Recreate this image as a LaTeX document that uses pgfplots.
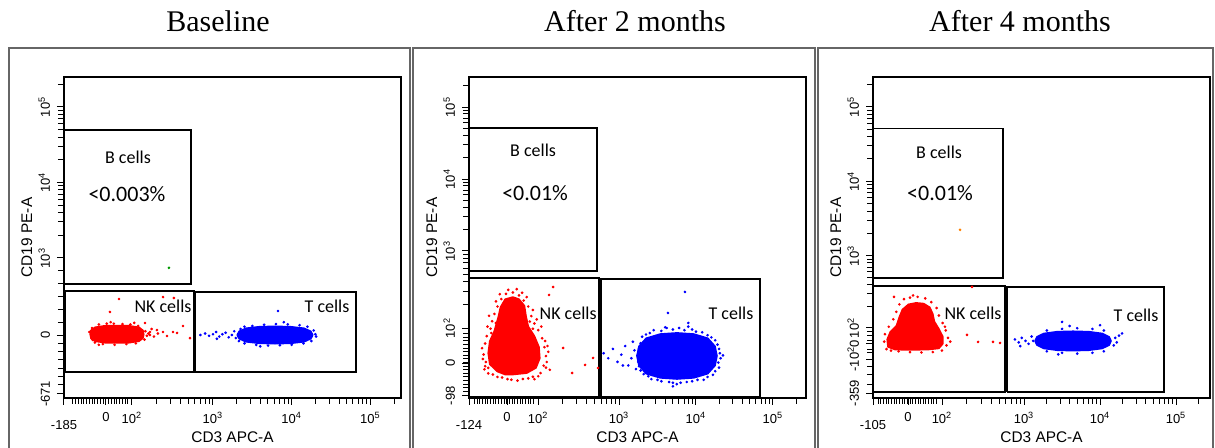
\documentclass[border=0pt]{standalone}
\usepackage{fontspec}
\setmainfont{Liberation Sans}
\newfontfamily\titlefont{Liberation Serif}
\newfontfamily\gatefont{Carlito}
\usepackage{pgfplots}
\pgfplotsset{compat=1.18}

% display scale: 10^n sits at n, low end is linear
\pgfplotsset{
  flow/.style={
    scale only axis, width=168.5pt, height=160.5pt, anchor=south west,
    axis line style={line width=0.7pt},
    tick align=outside, tick pos=left,
    major tick length=3.5pt, minor tick length=3pt,
    every tick/.style={black, line width=0.5pt},
    xlabel={CD3 APC-A}, ylabel={CD19 PE-A},
    label style={font=\fontsize{7.7}{8}\selectfont},
    xlabel style={at={(axis description cs:0.5,-0.1215)}, anchor=center},
    ylabel style={at={(axis description cs:-0.11,0.5)}, anchor=center},
    tick label style={font=\fontsize{6.5}{7}\selectfont},
    yticklabel style={rotate=90, anchor=south},
    extra x tick style={xticklabel style={yshift=-4pt}},
  },
  cloud/.style={line width=0.8pt, line join=round},
  dots/.style={only marks, mark=*, mark size=0.45pt},
  gate/.style={black, line width=0.7pt},
}
\tikzset{
  lbl/.style={font=\gatefont\fontsize{9}{9}\selectfont},
  pct/.style={font=\gatefont\fontsize{11}{11}\selectfont},
}

\begin{document}
\begin{tikzpicture}[x=0.5pt,y=0.5pt]
\useasboundingbox (0,0) rectangle (1215,448);

% panel frames
\draw[black!60, line width=1.1pt] (9,-5) -- (9,400) -- (410,400) -- (410,-5);
\draw[black!60, line width=1.1pt] (413,-5) -- (413,400) -- (815,400) -- (815,-5);
\draw[black!60, line width=1.1pt] (818,-5) -- (818,400) -- (1213,400) -- (1213,-5);

\node[font=\titlefont\fontsize{15}{15}\selectfont] at (218,427) {Baseline};
\node[font=\titlefont\fontsize{15}{15}\selectfont] at (635,427) {After 2 months};
\node[font=\titlefont\fontsize{15}{15}\selectfont] at (1020,427) {After 4 months};

% ---------------- Baseline ----------------
\begin{axis}[flow, at={(32pt,25pt)},
  xmin=1.107, xmax=5.389, ymin=1.146, ymax=5.397,
  xtick={1.64,1.97,3,4,5},
  xticklabels={0,10\textsuperscript{2},10\textsuperscript{3},10\textsuperscript{4},10\textsuperscript{5}},
  extra x ticks={1.107}, extra x tick labels={-185},
  minor xtick={1.22,1.255,...,1.955,2.28,2.461,2.59,2.69,2.771,2.84,2.90,2.953,
    3.301,3.477,3.602,3.699,3.778,3.845,3.903,3.954,
    4.301,4.477,4.602,4.699,4.778,4.845,4.903,4.954,5.301},
  ytick={1.98,3,4,5},
  yticklabels={0,10\textsuperscript{3},10\textsuperscript{4},10\textsuperscript{5}},
  extra y ticks={1.2}, extra y tick labels={-671},
  minor ytick={1.32,1.43,1.54,1.65,1.76,1.87,2.15,2.32,2.49,2.66,2.83,
    3.301,3.477,3.602,3.699,3.778,3.845,3.903,3.954,
    4.301,4.477,4.602,4.699,4.778,4.845,4.903,4.954,5.301},
]
\addplot[cloud, draw=red, fill=red] coordinates {
(2.12,1.99) (2.11,2.042) (2.059,2.082) (1.933,2.102) (1.78,2.105) (1.627,2.102)
(1.501,2.082) (1.45,2.042) (1.44,1.99) (1.45,1.938) (1.501,1.898) (1.627,1.878)
(1.78,1.875) (1.933,1.878) (2.059,1.898) (2.11,1.938) (2.12,1.99)};
\addplot[dots, red] coordinates {
(1.43,2.02) (1.46,1.93) (1.55,2.12) (1.65,2.13) (1.74,2.13) (1.85,2.125) (1.95,2.12)
(2.05,2.1) (2.14,2.03) (2.16,1.97) (2.13,1.92) (2.02,1.87) (1.9,1.86) (1.75,1.85)
(1.6,1.86) (1.5,1.88) (1.7,2.15) (2.0,2.14) (1.55,1.85) (2.18,2.0)
(1.806,2.457) (2.365,2.483) (2.504,2.470) (1.691,2.285) (2.136,2.139) (2.288,2.046)
(2.365,2.020) (2.492,2.020) (2.543,2.007) (2.619,2.099) (2.708,1.940) (2.416,1.967)
(2.199,1.980) (1.463,2.073) (1.475,1.914) (2.22,2.06) (2.25,1.96) (2.3,2.0) (2.2,2.02)};
\addplot[cloud, draw=blue, fill=blue] coordinates {
(4.268,1.98) (4.244,2.028) (4.158,2.069) (3.990,2.089) (3.788,2.095) (3.586,2.089)
(3.418,2.069) (3.332,2.028) (3.308,1.98) (3.332,1.932) (3.418,1.891) (3.586,1.871)
(3.788,1.865) (3.990,1.871) (4.158,1.891) (4.244,1.932) (4.268,1.98)};
\addplot[dots, blue] coordinates {
(2.84,1.98) (2.90,2.0) (2.95,1.97) (3.0,1.99) (3.04,2.02) (3.08,1.96) (3.12,1.99)
(3.16,2.01) (3.2,1.95) (3.24,1.98) (3.27,2.03) (3.29,1.94) (3.05,1.93)
(4.3,1.99) (4.31,1.96) (4.28,2.04) (4.2,2.09) (4.1,2.11) (3.95,2.12) (3.8,2.125)
(3.65,2.115) (3.5,2.1) (3.4,2.09) (3.35,2.06) (3.33,1.9) (3.4,1.87) (3.55,1.85)
(3.7,1.84) (3.85,1.845) (4.0,1.85) (4.15,1.87) (4.25,1.9) (3.9,2.15) (3.6,1.83)
(3.826,2.298)};
\addplot[dots, green!60!black] coordinates {(2.44,2.87)};
\addplot[gate] coordinates {(1.107,2.656) (2.72,2.656) (2.72,4.695) (1.107,4.695) (1.107,2.656)};
\addplot[gate] coordinates {(1.12,1.49) (2.76,1.49) (2.76,2.563) (1.12,2.563) (1.12,1.49)};
\addplot[gate] coordinates {(2.77,1.49) (4.817,1.49) (4.817,2.55) (2.77,2.55) (2.77,1.49)};
\node[lbl] at (axis cs:1.92,4.338) {B cells};
\node[pct] at (axis cs:1.907,3.848) {<0.003\%};
\node[lbl] at (axis cs:2.365,2.364) {NK cells};
\node[lbl] at (axis cs:4.449,2.364) {T cells};
\end{axis}

% ---------------- After 2 months ----------------
\begin{axis}[flow, at={(234.5pt,25pt)},
  xmin=1.05, xmax=5.43, ymin=0.958, ymax=5.417,
  xtick={1.545,1.948,3,4,5},
  xticklabels={0,10\textsuperscript{2},10\textsuperscript{3},10\textsuperscript{4},10\textsuperscript{5}},
  extra x ticks={1.05}, extra x tick labels={-124},
  minor xtick={1.12,1.155,...,1.925,2.265,2.450,2.581,2.683,2.767,2.837,2.898,2.952,
    3.301,3.477,3.602,3.699,3.778,3.845,3.903,3.954,
    4.301,4.477,4.602,4.699,4.778,4.845,4.903,4.954,5.301},
  ytick={1.444,1.93,3,4,5},
  yticklabels={0,10\textsuperscript{2},10\textsuperscript{3},10\textsuperscript{4},10\textsuperscript{5}},
  extra y ticks={0.99}, extra y tick labels={-98},
  minor ytick={1.05,1.1,...,1.9,2.252,2.440,2.574,2.678,2.762,2.834,2.896,2.951,
    3.301,3.477,3.602,3.699,3.778,3.845,3.903,3.954,
    4.301,4.477,4.602,4.699,4.778,4.845,4.903,4.954,5.301},
]
\addplot[cloud, draw=red, fill=red] coordinates {
(1.62,1.284) (1.80,1.304) (1.92,1.376) (1.97,1.510) (1.96,1.664) (1.90,1.818)
(1.82,1.952) (1.79,2.10) (1.77,2.24) (1.70,2.33) (1.62,2.36) (1.52,2.33)
(1.46,2.22) (1.43,2.08) (1.38,1.890) (1.32,1.746) (1.30,1.582) (1.32,1.427)
(1.42,1.325) (1.52,1.284) (1.62,1.284)};
\addplot[dots, red] coordinates {
(1.24,1.561) (1.26,1.715) (1.27,1.458) (1.28,1.818) (1.30,1.376) (1.33,1.921)
(1.35,2.024) (1.38,2.126) (1.42,2.229) (1.47,2.332) (1.53,2.404) (1.62,2.424)
(1.70,2.383) (1.76,2.311) (1.82,2.229) (1.86,2.096) (1.90,1.993) (1.95,1.900)
(2.0,1.787) (2.03,1.664) (2.05,1.541) (2.02,1.407) (1.98,1.304) (1.88,1.253)
(1.75,1.222) (1.60,1.212) (1.48,1.242) (1.36,1.284) (1.25,1.356) (1.85,1.766)
(2.06,1.458) (1.22,1.65) (2.08,1.60) (1.67,2.47) (1.45,2.40) (2.1,1.35) (1.9,1.22)
(1.23,1.50) (1.26,1.40) (1.29,1.95) (1.31,2.10) (1.40,2.30) (1.56,2.46) (1.74,2.42)
(1.80,2.36) (1.88,2.18) (1.93,2.05) (1.99,1.95) (2.04,1.75) (2.07,1.68) (2.05,1.38)
(1.95,1.26) (1.82,1.23) (1.68,1.20) (1.55,1.22) (1.42,1.25) (1.30,1.30) (1.34,1.86)
(1.88,1.92) (1.40,2.00) (1.84,2.02)
(2.143,2.5) (2.39,1.306) (2.558,1.417) (2.662,1.514) (2.727,1.375) (2.273,1.653)
(2.09,2.389)};
\addplot[cloud, draw=blue, fill=blue] coordinates {
(4.273,1.542) (4.247,1.676) (4.153,1.788) (3.971,1.846) (3.753,1.862) (3.535,1.846)
(3.353,1.788) (3.259,1.676) (3.233,1.542) (3.259,1.408) (3.353,1.296) (3.535,1.238)
(3.753,1.222) (3.971,1.238) (4.153,1.296) (4.247,1.408) (4.273,1.542)};
\addplot[dots, blue] coordinates {
(2.80,1.58) (2.86,1.51) (2.92,1.64) (2.98,1.46) (3.03,1.56) (3.08,1.68) (3.12,1.41)
(3.16,1.51) (3.20,1.62) (3.22,1.36) (3.18,1.74) (3.05,1.41)
(3.30,1.81) (3.40,1.86) (3.55,1.89) (3.70,1.91) (3.85,1.90) (4.0,1.88) (4.15,1.83)
(4.25,1.76) (4.30,1.64) (4.32,1.51) (4.30,1.38) (4.22,1.28) (4.1,1.21) (3.95,1.19)
(3.8,1.17) (3.65,1.18) (3.5,1.21) (3.38,1.26) (3.28,1.34) (3.25,1.46) (3.6,1.94)
(3.9,1.95) (3.75,1.15)
(3.28,1.72) (3.35,1.84) (3.45,1.90) (3.62,1.93) (3.78,1.93) (3.95,1.91) (4.08,1.87)
(4.2,1.80) (4.28,1.70) (4.31,1.58) (4.29,1.45) (4.25,1.33) (4.15,1.25) (4.02,1.21)
(3.88,1.18) (3.7,1.17) (3.55,1.19) (3.42,1.22) (3.32,1.29) (3.26,1.40) (3.24,1.55)
(3.26,1.64) (4.35,1.55) (3.9,2.0) (3.7,1.12)
(3.857,2.431) (3.636,2.139)};
\addplot[gate] coordinates {(1.05,2.722) (2.714,2.722) (2.714,4.706) (1.05,4.706) (1.05,2.722)};
\addplot[gate] coordinates {(1.06,0.97) (2.74,0.97) (2.74,2.625) (1.06,2.625) (1.06,0.97)};
\addplot[gate] coordinates {(2.766,0.97) (4.83,0.97) (4.83,2.609) (2.766,2.609) (2.766,0.97)};
\node[lbl] at (axis cs:1.883,4.403) {B cells};
\node[pct] at (axis cs:1.909,3.806) {<0.01\%};
\node[lbl] at (axis cs:2.338,2.139) {NK cells};
\node[lbl] at (axis cs:4.455,2.139) {T cells};
\end{axis}

% ---------------- After 4 months ----------------
\begin{axis}[flow, at={(436.5pt,25pt)},
  xmin=1.013, xmax=5.447, ymin=1.094, ymax=5.40,
  xtick={1.474,1.921,3,4,5},
  xticklabels={0,10\textsuperscript{2},10\textsuperscript{3},10\textsuperscript{4},10\textsuperscript{5}},
  extra x ticks={1.013}, extra x tick labels={-105},
  minor xtick={1.08,1.115,...,1.885,2.246,2.436,2.571,2.675,2.76,2.833,2.895,2.95,
    3.301,3.477,3.602,3.699,3.778,3.845,3.903,3.954,
    4.301,4.477,4.602,4.699,4.778,4.845,4.903,4.954,5.301},
  ytick={1.617,1.819,2.034,3,4,5},
  yticklabels={-10\textsuperscript{2},0,10\textsuperscript{2},10\textsuperscript{3},10\textsuperscript{4},10\textsuperscript{5}},
  extra y ticks={1.16}, extra y tick labels={-359},
  minor ytick={1.28,1.41,1.52,1.70,1.75,1.87,1.93,1.98,
    2.325,2.495,2.616,2.709,2.786,2.85,2.906,2.955,
    3.301,3.477,3.602,3.699,3.778,3.845,3.903,3.954,
    4.301,4.477,4.602,4.699,4.778,4.845,4.903,4.954,5.301},
]
\addplot[cloud, draw=red, fill=red] coordinates {
(1.57,1.74) (1.75,1.745) (1.88,1.76) (1.93,1.82) (1.93,1.92) (1.88,2.02) (1.82,2.12)
(1.80,2.22) (1.76,2.31) (1.68,2.36) (1.58,2.37) (1.48,2.35) (1.40,2.28) (1.36,2.18)
(1.32,2.06) (1.24,1.98) (1.20,1.88) (1.21,1.78) (1.30,1.745) (1.42,1.74) (1.57,1.74)};
\addplot[dots, red] coordinates {
(1.16,1.85) (1.17,1.95) (1.19,1.75) (1.22,2.05) (1.28,2.15) (1.32,2.25) (1.36,2.35)
(1.42,2.42) (1.50,2.44) (1.60,2.45) (1.70,2.43) (1.78,2.38) (1.85,2.30) (1.88,2.20)
(1.93,2.10) (1.97,2.00) (2.0,1.90) (1.98,1.80) (1.92,1.73) (1.80,1.71) (1.65,1.705)
(1.50,1.71) (1.35,1.72) (1.25,1.73) (2.03,1.85) (1.96,2.05) (1.54,2.47)
(2.316,2.584) (2.25,1.94) (2.395,1.846) (2.592,1.846) (2.684,1.832) (1.289,2.45)};
\addplot[cloud, draw=blue, fill=blue] coordinates {
(4.145,1.859) (4.12,1.914) (4.03,1.959) (3.855,1.983) (3.645,1.989) (3.435,1.983)
(3.26,1.959) (3.17,1.914) (3.145,1.859) (3.17,1.804) (3.26,1.759) (3.435,1.735)
(3.645,1.729) (3.855,1.735) (4.03,1.759) (4.12,1.804) (4.145,1.859)};
\addplot[dots, blue] coordinates {
(2.88,1.88) (2.93,1.84) (2.97,1.90) (3.02,1.86) (3.06,1.82) (3.10,1.92) (3.12,1.86)
(2.95,1.79) (4.20,1.90) (4.25,1.93) (4.29,1.96) (4.22,1.84) (4.18,1.80)
(3.3,2.0) (3.5,2.02) (3.7,2.03) (3.9,2.02) (4.05,2.0) (3.3,1.72) (3.5,1.70) (3.7,1.69)
(3.9,1.70) (4.05,1.72) (3.6,2.06) (3.45,1.68) (3.5,2.114) (4.0,2.07)};
\addplot[dots, orange] coordinates {(2.158,3.35)};
\addplot[gate] coordinates {(1.013,2.705) (2.724,2.705) (2.724,4.705) (1.013,4.705) (1.013,2.705)};
\addplot[gate] coordinates {(1.02,1.174) (2.75,1.174) (2.75,2.597) (1.02,2.597) (1.02,1.174)};
\addplot[gate] coordinates {(2.776,1.174) (4.842,1.174) (4.842,2.584) (2.776,2.584) (2.776,1.174)};
\node[lbl] at (axis cs:1.882,4.383) {B cells};
\node[pct] at (axis cs:1.895,3.846) {<0.01\%};
\node[lbl] at (axis cs:2.329,2.235) {NK cells};
\node[lbl] at (axis cs:4.474,2.208) {T cells};
\end{axis}
\end{tikzpicture}
\end{document}
